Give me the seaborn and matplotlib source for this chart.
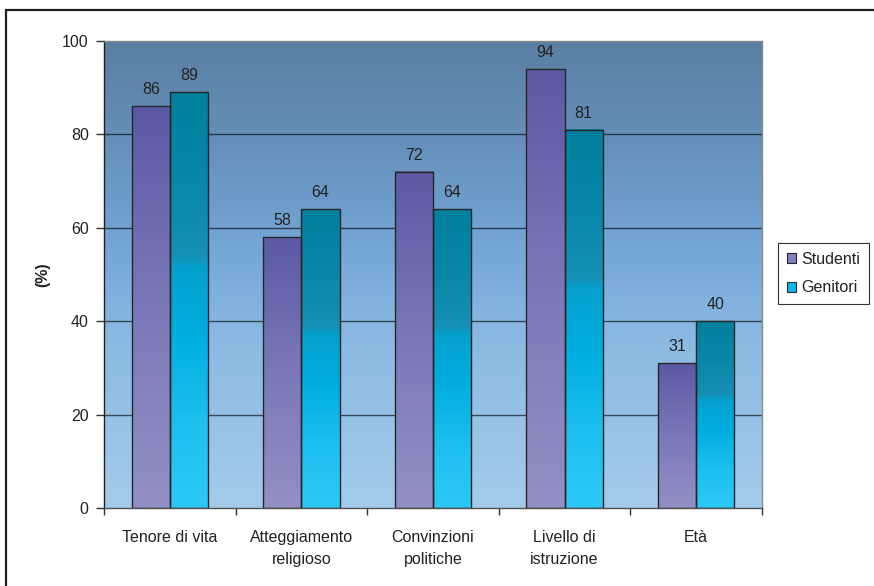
import numpy as np
import pandas as pd
import matplotlib
matplotlib.use("Agg")
import matplotlib.pyplot as plt
from matplotlib.colors import LinearSegmentedColormap
from matplotlib.patches import Patch
from matplotlib.lines import Line2D
from matplotlib.ticker import FixedLocator, NullFormatter
import seaborn as sns

# --- data ---------------------------------------------------------------
categories = ["Tenore di vita", "Atteggiamento\nreligioso", "Convinzioni\npolitiche",
              "Livello di\nistruzione", "Età"]
studenti = [86, 58, 72, 94, 31]
genitori = [89, 64, 64, 81, 40]
series_names = ["Studenti", "Genitori"]
y_ticks = [0, 20, 40, 60, 80, 100]

df = pd.DataFrame({
    "categoria": categories * 2,
    "valore": studenti + genitori,
    "gruppo": [series_names[0]] * len(categories) + [series_names[1]] * len(categories),
})

# --- style --------------------------------------------------------------
sns.set_theme(style="white")
plt.rcParams["font.family"] = ["Liberation Sans", "DejaVu Sans"]
fs = 11.5
text_color = "#222222"

bg_cmap = LinearSegmentedColormap.from_list(
    "bg", [(0.0, "#a3cbeb"), (0.35, "#8cbae3"), (0.55, "#75a7d7"),
           (0.78, "#6690bb"), (1.0, "#5a7fa2")])
stud_cmap = LinearSegmentedColormap.from_list(
    "stud", [(0.0, "#9290c6"), (0.5, "#7b78b9"), (1.0, "#5b59a4")])
gen_cmap = LinearSegmentedColormap.from_list(
    "gen", [(0.0, "#2cc9f7"), (0.2, "#1ec0ef"), (0.42, "#00ade0"),
            (0.58, "#05a0cd"), (0.61, "#168fb5"), (0.8, "#0886a8"), (1.0, "#007f9e")])

fig = plt.figure(figsize=(8.74, 5.86), dpi=100)
ax = fig.add_axes([104 / 874, 1 - 508 / 586, 658 / 874, 467 / 586])

sns.barplot(data=df, x="categoria", y="valore", hue="gruppo", hue_order=series_names,
            order=categories, width=0.58, gap=0, legend=False, ax=ax,
            edgecolor="#262626", linewidth=1.0, saturation=1)

xlim = (-0.5, len(categories) - 0.5)
ylim = (0, 100)

# gradient background of the plot area
grad = np.linspace(0, 1, 256).reshape(-1, 1)
ax.imshow(grad, cmap=bg_cmap, origin="lower", aspect="auto",
          extent=[xlim[0], xlim[1], ylim[0], ylim[1]], zorder=0)

# gradient fill inside every bar, value labels above
for container, cmap in zip(ax.containers, [stud_cmap, gen_cmap]):
    for bar in container:
        x0, w, h = bar.get_x(), bar.get_width(), bar.get_height()
        ax.imshow(grad, cmap=cmap, origin="lower", aspect="auto",
                  extent=[x0, x0 + w, 0, h], zorder=2.5)
        bar.set_facecolor("none")
        bar.set_zorder(3)
        ax.annotate(f"{h:.0f}", (x0 + w / 2, h), xytext=(0, 6.5),
                    textcoords="offset points", ha="center", va="bottom",
                    color=text_color, fontsize=fs, zorder=4)

ax.set_xlim(*xlim)
ax.set_ylim(*ylim)

# grid lines
for yv in y_ticks[1:-1]:
    ax.axhline(yv, color="black", alpha=0.62, linewidth=1.0, zorder=1)

# axes frame
for side in ["top", "right"]:
    ax.spines[side].set_color("#8a8a8a")
    ax.spines[side].set_linewidth(1.0)
ax.spines["left"].set_color("#202020")
ax.spines["bottom"].set_color("#505050")
for side in ["left", "bottom"]:
    ax.spines[side].set_linewidth(1.0)
for s in ax.spines.values():
    s.set_zorder(5)

# ticks
ax.set_yticks(y_ticks)
ax.tick_params(axis="y", direction="out", length=6, width=1, color="#333333",
               pad=5, labelsize=fs, labelcolor=text_color, left=True)
ax.set_xticks(range(len(categories)))
ax.set_xticklabels(categories, linespacing=1.6)
ax.xaxis.set_minor_locator(FixedLocator(np.arange(-0.5, len(categories), 1.0)))
ax.xaxis.set_minor_formatter(NullFormatter())
ax.tick_params(axis="x", which="major", length=0, pad=15.5, labelsize=fs,
               labelcolor=text_color)
ax.tick_params(axis="x", which="minor", direction="out", length=5, width=1,
               color="#333333", bottom=True)

ax.set_xlabel("")
ax.set_ylabel("(%)", fontsize=fs, fontweight="bold", color=text_color)
ax.yaxis.set_label_coords(-0.082, 0.5)

# legend
handles = [Patch(facecolor="#8482c0", edgecolor="#262626", linewidth=0.8),
           Patch(facecolor="#12b6e6", edgecolor="#262626", linewidth=0.8)]
leg = fig.legend(handles, series_names, loc="upper left",
                 bbox_to_anchor=(778 / 874, 1 - 243 / 586),
                 frameon=True, fancybox=False, edgecolor="black",
                 handlelength=0.6, handleheight=0.6, handletextpad=0.3,
                 borderpad=0.55, labelspacing=0.85, fontsize=fs,
                 borderaxespad=0)
leg.get_frame().set_linewidth(0.8)
for t in leg.get_texts():
    t.set_color(text_color)

# outer chart border
fig.add_artist(Line2D([6 / 874, 6 / 874], [0, 1 - 10 / 586], color="#202020", linewidth=1.6))
fig.add_artist(Line2D([6 / 874, 1], [1 - 10 / 586, 1 - 10 / 586], color="#202020", linewidth=1.6))

fig.savefig("out.png", dpi=100, facecolor="white")
